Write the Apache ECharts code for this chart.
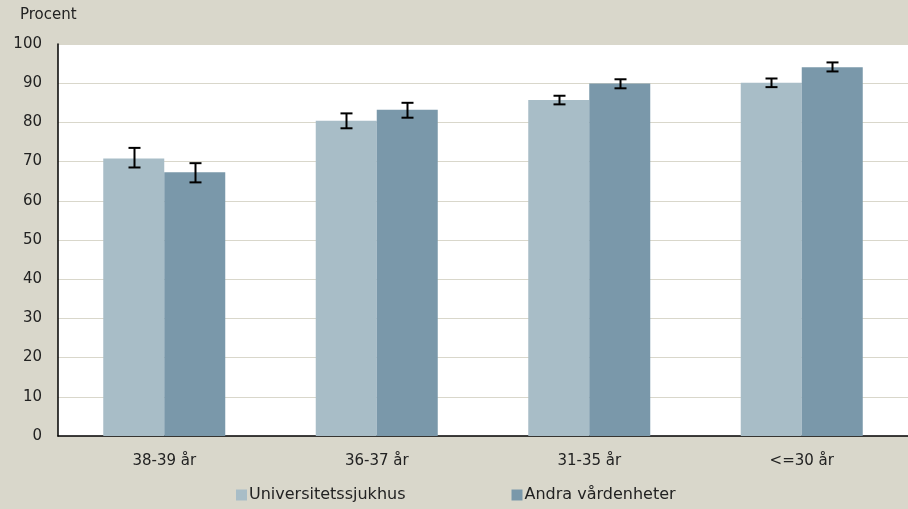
<!DOCTYPE html>
<html>
<head>
<meta charset="utf-8">
<script src="https://cdn.jsdelivr.net/npm/echarts@6/dist/echarts.min.js"></script>
<style>
  html, body { margin: 0; padding: 0; background: #d9d7cb; }
  #chart { width: 908px; height: 509px; }
</style>
</head>
<body>
<div id="chart"></div>
<script>
  const categories = ['38-39 år', '36-37 år', '31-35 år', '<=30 år'];
  const seriesNames = ['Universitetssjukhus', 'Andra vårdenheter'];
  const univValues = [70.8, 80.4, 85.7, 90.1];
  const univLow = [68.5, 78.5, 84.6, 89.0];
  const univHigh = [73.5, 82.3, 86.8, 91.2];
  const andraValues = [67.3, 83.2, 89.9, 94.1];
  const andraLow = [64.7, 81.2, 88.7, 93.0];
  const andraHigh = [69.6, 85.0, 91.0, 95.3];

  const colors = ['#a8bdc7', '#7a98aa'];
  const barW = 61;
  const font = '"DejaVu Sans", sans-serif';

  // felstaplar, en per stapel
  function errorSeries(low, high, offset) {
    return {
      type: 'custom',
      z: 10,
      data: categories.map((c, i) => [i, low[i], high[i]]),
      renderItem: function (params, api) {
        const lo = api.coord([api.value(0), api.value(1)]);
        const hi = api.coord([api.value(0), api.value(2)]);
        const x = Math.round(lo[0] + offset) + 0.5;
        const cap = 6;
        const style = { stroke: '#000', lineWidth: 2 };
        return {
          type: 'group',
          children: [
            { type: 'line', shape: { x1: x, y1: hi[1], x2: x, y2: lo[1] }, style: style },
            { type: 'line', shape: { x1: x - cap, y1: hi[1], x2: x + cap, y2: hi[1] }, style: style },
            { type: 'line', shape: { x1: x - cap, y1: lo[1], x2: x + cap, y2: lo[1] }, style: style }
          ]
        };
      },
      silent: true,
      tooltip: { show: false }
    };
  }

  const chart = echarts.init(document.getElementById('chart'));
  chart.setOption({
    backgroundColor: '#d9d7cb',
    animation: false,
    textStyle: { fontFamily: font },
    grid: { left: 58, top: 44, width: 858, height: 392, backgroundColor: '#fff', show: true, borderWidth: 0 },
    graphic: [
      { type: 'text', left: 20, top: 8, style: { text: 'Procent', fontSize: 15, fill: '#222', fontFamily: font } }
    ],
    legend: {
      bottom: 1,
      left: 231,
      itemGap: 106,
      itemWidth: 11,
      itemHeight: 11,
      icon: 'rect',
      textStyle: { fontSize: 16, color: '#222', padding: [0, 0, 0, -3] },
      data: seriesNames
    },
    xAxis: {
      type: 'category',
      data: categories,
      axisLine: { lineStyle: { color: '#000', width: 1.5 } },
      axisTick: { inside: true, length: 6, lineStyle: { color: '#000' } },
      axisLabel: { fontSize: 15, color: '#222', margin: 18 }
    },
    yAxis: {
      type: 'value',
      min: 0,
      max: 100,
      interval: 10,
      axisLine: { show: true, lineStyle: { color: '#000', width: 1.5 } },
      axisTick: { show: false },
      axisLabel: { fontSize: 15, color: '#222', margin: 16 },
      splitLine: { lineStyle: { color: '#d9d7cb', width: 1 } }
    },
    series: [
      { name: seriesNames[0], type: 'bar', data: univValues, barWidth: barW, barGap: '0%', itemStyle: { color: colors[0] } },
      { name: seriesNames[1], type: 'bar', data: andraValues, barWidth: barW, barGap: '0%', itemStyle: { color: colors[1] } },
      errorSeries(univLow, univHigh, -barW / 2),
      errorSeries(andraLow, andraHigh, barW / 2)
    ]
  });
</script>
</body>
</html>
